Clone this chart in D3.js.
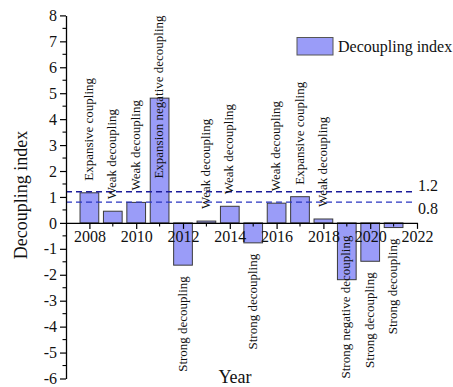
<!DOCTYPE html>
<html>
<head>
<meta charset="utf-8">
<script src="https://cdn.jsdelivr.net/npm/d3@7"></script>
<style>
  html, body { margin: 0; padding: 0; background: #fff; }
  svg { display: block; font-family: "Liberation Serif", "Times New Roman", serif; }
</style>
</head>
<body>
<svg id="chart" width="453" height="387"></svg>
<script>
// Decoupling index by year, with the decoupling state of each year
const years = [2008, 2009, 2010, 2011, 2012, 2013, 2014, 2015, 2016, 2017, 2018, 2019, 2020, 2021];
const values = [1.16, 0.45, 0.79, 4.81, -1.63, 0.07, 0.64, -0.77, 0.76, 1.01, 0.15, -2.19, -1.48, -0.18];
const states = [
  "Expansive coupling", "Weak decoupling", "Weak decoupling", "Expansion negative decoupling",
  "Strong decoupling", "Weak decoupling", "Weak decoupling", "Strong decoupling",
  "Weak decoupling", "Expansive coupling", "Weak decoupling", "Strong negative decoupling",
  "Strong decoupling", "Strong decoupling"
];
const thresholds = [1.2, 0.8];
const thresholdLabels = ["1.2", "0.8"];
const yTickValues = [-6, -5, -4, -3, -2, -1, 0, 1, 2, 3, 4, 5, 6, 7, 8];
const xTickYears = [2008, 2010, 2012, 2014, 2016, 2018, 2020, 2022];
const seriesName = "Decoupling index";

const svg = d3.select("#chart");
const plotLeft = 66, plotRight = 417, plotTop = 15.4, plotBottom = 378.5;

const x = d3.scaleLinear().domain([2007, 2022]).range([plotLeft, plotRight]);
const y = d3.scaleLinear().domain([-6, 8]).range([plotBottom, plotTop]);
const barW = (x(2008) - x(2007)) * 0.8;

const data = years.map((yr, i) => ({ year: yr, value: values[i], state: states[i] }));

// bars
svg.append("g").selectAll("rect").data(data).join("rect")
  .attr("x", d => x(d.year) - barW / 2)
  .attr("y", d => y(Math.max(0, d.value)))
  .attr("width", barW)
  .attr("height", d => Math.abs(y(d.value) - y(0)))
  .attr("fill", "#9a9cf8")
  .attr("stroke", "#3a3a3a")
  .attr("stroke-width", 1);

// threshold reference lines
const thrG = svg.append("g");
thresholds.forEach((t, i) => {
  thrG.append("line")
    .attr("x1", plotLeft).attr("x2", plotRight - 2)
    .attr("y1", y(t)).attr("y2", y(t))
    .attr("stroke", i === 0 ? "#1c1c9a" : "#2a35c0")
    .attr("stroke-width", i === 0 ? 1.7 : 1.1)
    .attr("stroke-dasharray", "6,4");
  thrG.append("text")
    .attr("x", plotRight + 1)
    .attr("y", y(t) + (i === 0 ? -6 : 6))
    .attr("dominant-baseline", "central")
    .attr("font-size", 16)
    .attr("fill", "#111")
    .text(thresholdLabels[i]);
});

// y axis
const yAxis = d3.axisLeft(y).tickValues(yTickValues).tickFormat(d => d < 0 ? "-" + Math.abs(d) : d)
  .tickSize(6).tickSizeOuter(0).tickPadding(3);
const yg = svg.append("g").attr("transform", `translate(${plotLeft},0)`).call(yAxis);
yg.select(".domain").attr("stroke", "#000").attr("stroke-width", 1.3);
yg.selectAll(".tick line").attr("stroke", "#000").attr("stroke-width", 1.2);
yg.selectAll(".tick text").attr("font-size", 16).attr("font-family", "Liberation Serif, Times New Roman, serif").attr("fill", "#111");
const yMinor = d3.range(-5.5, 8, 1);
svg.append("g").selectAll("line").data(yMinor).join("line")
  .attr("x1", plotLeft - 3.5).attr("x2", plotLeft)
  .attr("y1", d => y(d)).attr("y2", d => y(d))
  .attr("stroke", "#000").attr("stroke-width", 1.1);

// x axis at zero
const xAxis = d3.axisBottom(x).tickValues(xTickYears).tickFormat(d3.format("d"))
  .tickSize(6).tickSizeOuter(0).tickPadding(2);
const xg = svg.append("g").attr("transform", `translate(0,${y(0)})`).call(xAxis);
xg.select(".domain").attr("stroke", "#000").attr("stroke-width", 1.3);
xg.selectAll(".tick line").attr("stroke", "#000").attr("stroke-width", 1.2);
xg.selectAll(".tick text").attr("font-size", 16).attr("font-family", "Liberation Serif, Times New Roman, serif").attr("fill", "#111");
const xMinor = d3.range(2009, 2022, 2);
svg.append("g").selectAll("line").data(xMinor).join("line")
  .attr("x1", d => x(d)).attr("x2", d => x(d))
  .attr("y1", y(0)).attr("y2", y(0) + 3.5)
  .attr("stroke", "#000").attr("stroke-width", 1.1);

// state labels, rotated
const labG = svg.append("g");
data.forEach(d => {
  const t = labG.append("text")
    .attr("font-size", 13)
    .attr("fill", "#111")
    .attr("dominant-baseline", "central")
    .text(d.state);
  const len = t.node().getComputedTextLength();
  const cx = x(d.year) - 1;
  if (d.value >= 0) {
    // text starts above the bar, kept inside the plot top
    const start = Math.max(y(d.value) - 12, plotTop + len);
    t.attr("text-anchor", "start").attr("transform", `translate(${cx},${start}) rotate(-90)`);
  } else {
    // text hangs below the bar, kept inside the plot bottom
    const end = Math.min(y(d.value) + 11, plotBottom - len);
    t.attr("text-anchor", "end").attr("transform", `translate(${cx},${end}) rotate(-90)`);
  }
});

// axis titles
svg.append("text")
  .attr("transform", `translate(21,${(y(-6) + y(8)) / 2 - 2}) rotate(-90)`)
  .attr("text-anchor", "middle").attr("dominant-baseline", "central")
  .attr("font-size", 18).attr("fill", "#111")
  .text("Decoupling index");
svg.append("text")
  .attr("x", 235).attr("y", 383)
  .attr("text-anchor", "middle")
  .attr("font-size", 18).attr("fill", "#111")
  .text("Year");

// legend
const lg = svg.append("g");
lg.append("rect").attr("x", 297).attr("y", 37.5).attr("width", 36).attr("height", 17.5)
  .attr("fill", "#9a9cf8").attr("stroke", "#555").attr("stroke-width", 1);
lg.append("text").attr("x", 338).attr("y", 46.5)
  .attr("dominant-baseline", "central")
  .attr("font-size", 16).attr("fill", "#111")
  .text(seriesName);
</script>
</body>
</html>
